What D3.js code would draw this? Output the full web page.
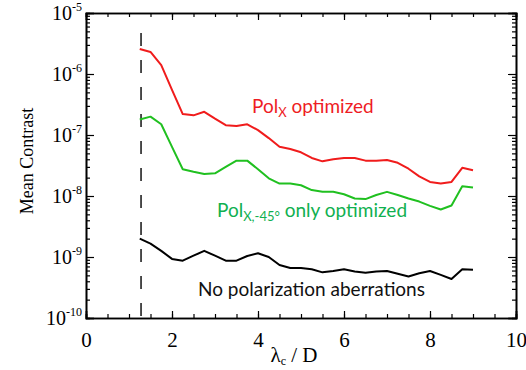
<!DOCTYPE html>
<html>
<head>
<meta charset="utf-8">
<script src="https://cdn.jsdelivr.net/npm/d3@7"></script>
<style>
  body { margin: 0; background: #fff; }
  svg { display: block; }
  .frame path.domain { stroke: #000; stroke-width: 1.6; }
  .frame line { stroke: #000; stroke-width: 1.2; }
  .series { fill: none; stroke-width: 2; stroke-linejoin: round; }
  .serif { font-family: "Liberation Serif", "DejaVu Serif", serif; }
  .note { font-family: Lato, "Open Sans", sans-serif; }
</style>
</head>
<body>
<svg id="chart" width="526" height="370"></svg>
<script>
// wavelength / D sampled every 0.25
const lambdaD = [1.25, 1.5, 1.75, 2, 2.25, 2.5, 2.75, 3, 3.25, 3.5, 3.75, 4, 4.25, 4.5, 4.75, 5,
  5.25, 5.5, 5.75, 6, 6.25, 6.5, 6.75, 7, 7.25, 7.5, 7.75, 8, 8.25, 8.5, 8.75, 9];

const polX = [2.57e-6, 2.3e-6, 1.4e-6, 5.5e-7, 2.2e-7, 2.1e-7, 2.4e-7, 1.85e-7, 1.45e-7, 1.4e-7, 1.5e-7, 1.2e-7,
  8.9e-8, 6.4e-8, 5.9e-8, 5.2e-8, 4.2e-8, 3.7e-8, 4.0e-8, 4.2e-8, 4.2e-8, 3.8e-8, 3.8e-8, 3.9e-8,
  3.5e-8, 2.8e-8, 2.1e-8, 1.7e-8, 1.6e-8, 1.7e-8, 2.9e-8, 2.65e-8];

const polX45 = [1.8e-7, 2.0e-7, 1.5e-7, 6.4e-8, 2.75e-8, 2.5e-8, 2.3e-8, 2.35e-8, 3.0e-8, 3.8e-8, 3.8e-8, 2.75e-8,
  1.95e-8, 1.6e-8, 1.6e-8, 1.5e-8, 1.25e-8, 1.17e-8, 1.17e-8, 1.07e-8, 9.1e-9, 8.9e-9, 1.04e-8, 1.17e-8,
  1.04e-8, 9.1e-9, 8.1e-9, 6.9e-9, 6.0e-9, 7.0e-9, 1.45e-8, 1.38e-8];

const noPol = [2.0e-9, 1.66e-9, 1.26e-9, 9.3e-10, 8.7e-10, 1.05e-9, 1.26e-9, 1.05e-9, 8.7e-10, 8.7e-10, 1.04e-9, 1.15e-9,
  1.0e-9, 7.4e-10, 6.6e-10, 6.6e-10, 6.3e-10, 5.6e-10, 5.9e-10, 6.3e-10, 5.8e-10, 5.5e-10, 5.8e-10, 5.9e-10,
  5.3e-10, 4.8e-10, 5.4e-10, 5.9e-10, 5.1e-10, 4.35e-10, 6.3e-10, 6.2e-10];

const cutoff = 1.28;          // dashed vertical line
const xMajor = [0, 2, 4, 6, 8, 10];
const xMinor = d3.range(0, 10.01, 0.5);
const yExponents = [-5, -6, -7, -8, -9, -10];

const margin = { top: 13, right: 10, bottom: 52, left: 86 };
const width = 526 - margin.left - margin.right;
const height = 370 - margin.top - margin.bottom;

const svg = d3.select('#chart');
const g = svg.append('g').attr('transform', 'translate(' + margin.left + ',' + margin.top + ')');

const x = d3.scaleLinear().domain([0, 10]).range([0, width]);
const y = d3.scaleLog().domain([1e-10, 1e-5]).range([height, 0]);

const yMajor = yExponents.map((e) => Math.pow(10, e));
const yMinor = [];
yExponents.slice(0, -1).forEach((e) => {
  for (let k = 2; k <= 9; k++) yMinor.push(k * Math.pow(10, e - 1));
});

// inward ticks on all four sides
function frameAxis(axisFn, scale, values, size, transform) {
  g.append('g')
    .attr('class', 'frame')
    .attr('transform', transform)
    .call(axisFn(scale).tickValues(values).tickSize(-size).tickFormat(''));
}
frameAxis(d3.axisLeft, y, yMinor, 4, null);
frameAxis(d3.axisLeft, y, yMajor, 8, null);
frameAxis(d3.axisRight, y, yMinor, 4, 'translate(' + width + ',0)');
frameAxis(d3.axisRight, y, yMajor, 8, 'translate(' + width + ',0)');
frameAxis(d3.axisBottom, x, xMinor, 4, 'translate(0,' + height + ')');
frameAxis(d3.axisBottom, x, xMajor, 7, 'translate(0,' + height + ')');
frameAxis(d3.axisTop, x, xMinor, 4, null);
frameAxis(d3.axisTop, x, xMajor, 7, null);

// x tick labels
g.append('g')
  .attr('transform', 'translate(0,' + height + ')')
  .call(d3.axisBottom(x).tickValues(xMajor).tickSize(0).tickPadding(14).tickFormat(d3.format('d')))
  .call((a) => a.select('.domain').remove())
  .selectAll('text')
  .attr('class', 'serif')
  .attr('font-family', null)
  .style('font-size', '21px')
  .attr('fill', '#000');

// y tick labels 10^n
const yLab = g.append('g').attr('class', 'serif');
yExponents.forEach((e) => {
  const t = yLab.append('text')
    .attr('x', -4)
    .attr('y', y(Math.pow(10, e)) + 7)
    .attr('text-anchor', 'end');
  t.append('tspan').style('font-size', '20px').text('10');
  t.append('tspan').style('font-size', '12px').attr('dy', -9).text(String(e));
});

// cutoff dashed line
g.append('line')
  .attr('x1', x(cutoff)).attr('x2', x(cutoff))
  .attr('y1', y(4.7e-6)).attr('y2', y(1e-10))
  .attr('stroke', '#222').attr('stroke-width', 1.6)
  .attr('stroke-dasharray', '13,14');

const line = d3.line()
  .x((d, i) => x(lambdaD[i]))
  .y((d) => y(d));

const series = [
  { values: polX, color: '#f01c1c' },
  { values: polX45, color: '#20c020' },
  { values: noPol, color: '#000' }
];
g.selectAll('.series')
  .data(series)
  .enter()
  .append('path')
  .attr('class', 'series')
  .attr('stroke', (d) => d.color)
  .attr('d', (d) => line(d.values));

// annotations
function note(px, py, color, parts) {
  const t = svg.append('text')
    .attr('class', 'note')
    .attr('x', px).attr('y', py)
    .attr('fill', color)
    .style('font-size', '19px');
  parts.forEach((p) => {
    const s = t.append('tspan').text(p.text);
    if (p.sub) s.style('font-size', '13px').attr('dy', 4);
    if (p.up) s.attr('dy', -4);
  });
}
note(252, 113, '#ee1c24', [{ text: 'Pol' }, { text: 'X', sub: true }, { text: ' optimized', up: true }]);
note(217, 217, '#10b050', [{ text: 'Pol' }, { text: 'X,-45°', sub: true }, { text: ' only optimized', up: true }]);
note(198, 296, '#111', [{ text: 'No polarization aberrations' }]);

// axis titles
svg.append('text')
  .attr('class', 'serif')
  .attr('transform', 'translate(33,' + (margin.top + 148) + ') rotate(-90)')
  .attr('text-anchor', 'middle')
  .style('font-size', '18px')
  .text('Mean Contrast');

const xt = svg.append('text')
  .attr('class', 'serif')
  .attr('x', 294).attr('y', 362)
  .attr('text-anchor', 'middle')
  .style('font-size', '21px');
xt.append('tspan').text('λ');
xt.append('tspan').style('font-size', '12px').attr('dy', 3).text('c');
xt.append('tspan').attr('dy', -3).text(' / D');
</script>
</body>
</html>
